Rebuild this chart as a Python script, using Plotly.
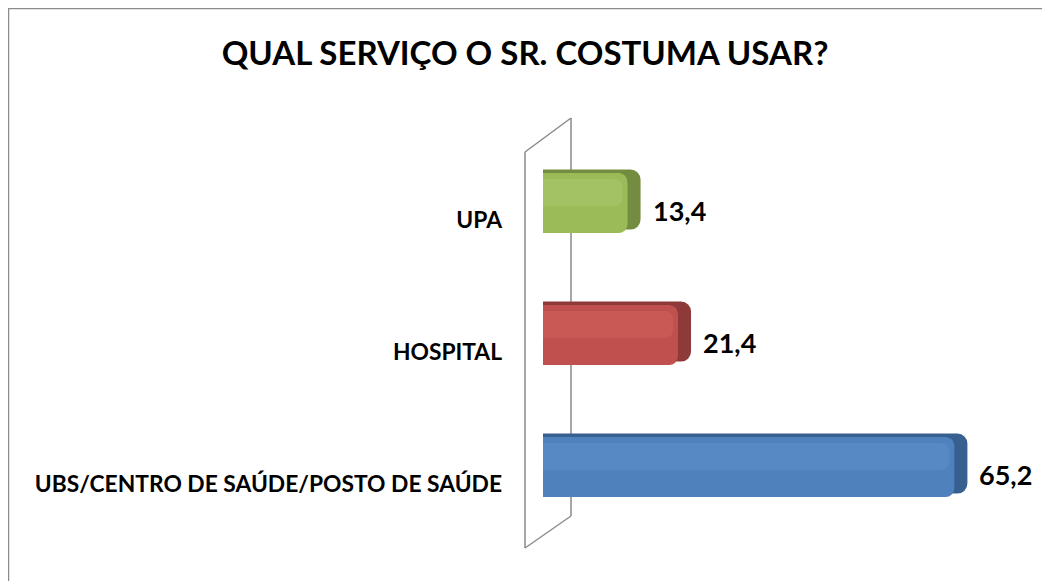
import plotly.graph_objects as go

# ---- data ----
categories = ["UBS/CENTRO DE SAÚDE/POSTO DE SAÚDE", "HOSPITAL", "UPA"]
values = [65.2, 21.4, 13.4]
positions = [0, 1, 2]
front_colors = ["#4F81BD", "#C0504D", "#9BBB59"]
side_colors = ["#375F90", "#8E3A38", "#738C40"]
light_colors = ["#6A9BD6", "#DB6F6B", "#B4D57A"]
title_text = "QUAL SERVIÇO O SR. COSTUMA USAR?"

# ---- geometry (pixels, page coordinates; page has an 8px body margin) ----
OFF = 8
W, H = 1050 - OFF, 581 - OFF
X0_PAGE = 543          # page x where value 0 sits
ML = X0_PAGE - OFF
MR = 26
MT = 104 - OFF
MB = 15
PW, PH = W - ML - MR, H - MT - MB
PX_PER_UNIT = 6.31
XMAX = PW / PX_PER_UNIT
FONT = "Lato"

def px(x):
    return (x - OFF - ML) / PW

def py(y):
    return (H - MB - (y - OFF)) / PH

bar_w = 0.455
depth = 13 / PX_PER_UNIT

fig = go.Figure()
# back/side face (gives the 3D look)
fig.add_trace(go.Bar(
    x=[v + depth for v in values], y=positions, orientation="h",
    width=bar_w, offset=-bar_w / 2 + 0.026,
    marker=dict(color=side_colors, line=dict(width=0), cornerradius=10),
    hoverinfo="skip", showlegend=False,
))
# front face
fig.add_trace(go.Bar(
    x=values, y=positions, orientation="h",
    width=bar_w, offset=-bar_w / 2,
    marker=dict(color=front_colors, line=dict(width=0), cornerradius=9),
    showlegend=False, hovertemplate="%{x}<extra></extra>",
))
# soft highlight band
fig.add_trace(go.Bar(
    x=[v - 0.8 for v in values], y=positions, orientation="h",
    width=bar_w * 0.45, offset=-bar_w * 0.05,
    marker=dict(color=light_colors, line=dict(width=0), cornerradius=8, opacity=0.3),
    hoverinfo="skip", showlegend=False,
))

# value labels
for v, p in zip(values, positions):
    fig.add_annotation(
        x=v, y=p, xref="x", yref="y", text=f"{v:.1f}".replace(".", ","),
        showarrow=False, xanchor="left", yanchor="middle", xshift=23, yshift=-7,
        font=dict(family=FONT, size=27, color="#000000", weight="bold"),
    )

# 3D wall (axis plane)
wall = dict(type="line", xref="paper", yref="paper", line=dict(color="#8A8A8A", width=1.5), layer="below")
fig.add_shape(**wall, x0=px(525), y0=py(152), x1=px(525), y1=py(548))
fig.add_shape(**wall, x0=px(571), y0=py(118), x1=px(571), y1=py(516))
fig.add_shape(**wall, x0=px(525), y0=py(152), x1=px(571), y1=py(118))
fig.add_shape(**wall, x0=px(525), y0=py(548), x1=px(571), y1=py(516))

# chart border (top and left edges visible)
fig.add_shape(type="rect", xref="paper", yref="paper",
              x0=px(8), y0=py(8), x1=px(1070), y1=py(600),
              line=dict(color="#8C8C8C", width=2.5), layer="below")

fig.update_layout(
    width=W, height=H,
    margin=dict(l=ML, r=MR, t=MT, b=MB),
    paper_bgcolor="white", plot_bgcolor="white",
    barmode="overlay",
    title=dict(text=title_text, x=(525 - OFF) / W, xref="container", xanchor="center",
               y=1 - (53 - OFF) / H, yref="container", yanchor="middle",
               font=dict(family=FONT, size=33, color="#000000", weight="bold")),
    xaxis=dict(range=[0, XMAX], visible=False),
    yaxis=dict(range=[-0.75, 2.75], tickvals=[p - 0.13 for p in positions],
               ticktext=categories, showgrid=False, zeroline=False, showline=False,
               ticks="", ticklabelstandoff=40,
               tickfont=dict(family=FONT, size=22.8, color="#000000", weight="bold")),
    font=dict(family=FONT),
)

fig.write_html("out.html")
